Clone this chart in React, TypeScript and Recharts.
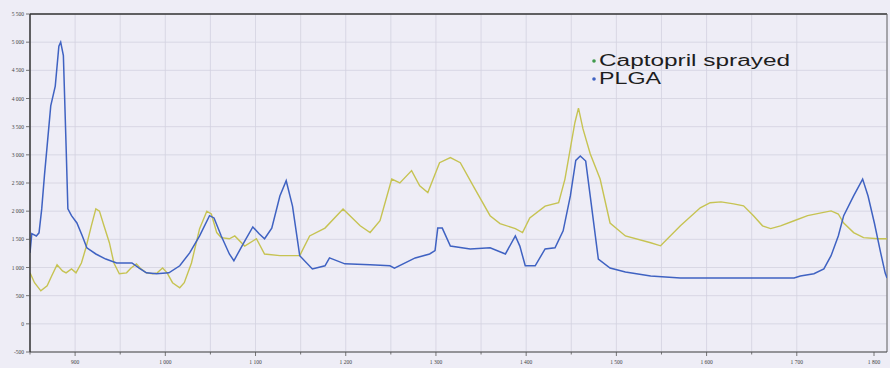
import { LineChart, Line, XAxis, YAxis, CartesianGrid, Legend, ReferenceLine } from 'recharts';

// Raman shift (cm-1) / intensity
const plgaShift = [850, 852, 857, 860, 863, 866, 869, 873, 878, 882, 884, 887, 890, 892, 896, 902, 908, 913, 923, 934, 946, 957, 963, 971, 979, 990, 1004, 1016, 1027, 1038, 1049, 1054, 1062, 1071, 1076, 1088, 1097, 1104, 1110, 1118, 1127, 1134, 1141, 1149, 1163, 1177, 1182, 1199, 1227, 1249, 1254, 1277, 1293, 1299, 1302, 1307, 1316, 1338, 1360, 1377, 1388, 1393, 1399, 1410, 1421, 1432, 1441, 1449, 1455, 1460, 1466, 1471, 1480, 1493, 1510, 1538, 1571, 1616, 1660, 1697, 1704, 1719, 1730, 1738, 1746, 1752, 1763, 1773, 1779, 1786, 1793, 1798, 1800];
const plgaIntensity = [1260, 1600, 1560, 1615, 2040, 2630, 3160, 3870, 4220, 4930, 5000, 4760, 3160, 2040, 1920, 1790, 1560, 1350, 1240, 1150, 1080, 1080, 1080, 990, 905, 890, 905, 1030, 1260, 1560, 1920, 1880, 1560, 1240, 1120, 1470, 1720, 1600, 1510, 1700, 2270, 2540, 2090, 1210, 975, 1030, 1170, 1065, 1050, 1030, 990, 1170, 1240, 1300, 1700, 1700, 1380, 1330, 1350, 1240, 1560, 1380, 1030, 1030, 1330, 1350, 1650, 2270, 2900, 2980, 2890, 2270, 1150, 990, 920, 850, 815, 815, 815, 815, 850, 890, 975, 1210, 1560, 1920, 2270, 2570, 2270, 1790, 1260, 900, 815];

const captoprilShift = [850, 855, 862, 869, 874, 880, 886, 890, 896, 901, 907, 912, 918, 923, 927, 932, 938, 943, 949, 957, 962, 968, 973, 979, 986, 991, 997, 1002, 1008, 1016, 1021, 1029, 1038, 1046, 1051, 1057, 1062, 1071, 1077, 1088, 1101, 1110, 1127, 1149, 1160, 1177, 1197, 1216, 1227, 1238, 1251, 1260, 1273, 1282, 1291, 1304, 1316, 1327, 1343, 1360, 1371, 1388, 1396, 1404, 1421, 1436, 1443, 1454, 1458, 1463, 1471, 1482, 1493, 1510, 1538, 1549, 1571, 1593, 1604, 1616, 1630, 1641, 1652, 1662, 1671, 1682, 1697, 1712, 1727, 1738, 1746, 1752, 1763, 1774, 1790, 1800];
const captoprilIntensity = [905, 730, 585, 675, 850, 1050, 940, 905, 975, 905, 1080, 1350, 1740, 2040, 2000, 1740, 1440, 1080, 890, 905, 990, 1065, 975, 905, 890, 905, 990, 905, 730, 640, 730, 1080, 1690, 2000, 1950, 1620, 1530, 1510, 1560, 1380, 1510, 1240, 1210, 1210, 1560, 1700, 2040, 1740, 1620, 1830, 2570, 2500, 2720, 2450, 2330, 2860, 2950, 2860, 2400, 1920, 1780, 1690, 1620, 1880, 2090, 2150, 2570, 3570, 3830, 3460, 3020, 2570, 1790, 1560, 1440, 1385, 1740, 2060, 2150, 2165, 2130, 2095, 1920, 1740, 1690, 1740, 1830, 1920, 1970, 2005, 1950, 1790, 1620, 1530, 1510, 1510];

const xTicks = [850, 900, 950, 1000, 1050, 1100, 1150, 1200, 1250, 1300, 1350, 1400, 1450, 1500, 1550, 1600, 1650, 1700, 1750, 1800];
const yTicks = [-500, -250, 0, 250, 500, 750, 1000, 1250, 1500, 1750, 2000, 2250, 2500, 2750, 3000, 3250, 3500, 3750, 4000, 4250, 4500, 4750, 5000, 5250, 5500];
const yGrid = [-500, 0, 500, 1000, 1500, 2000, 2500, 3000, 3500, 4000, 4500, 5000, 5500];

const seriesNames = ['Captopril sprayed', 'PLGA'];
const seriesColors = ['#c6c352', '#3f62c2'];
const bulletColors = ['#3f9a4c', '#3f62c2'];

const plgaData = plgaShift.map((x, i) => ({ x, y: plgaIntensity[i] }));
const captoprilData = captoprilShift.map((x, i) => ({ x, y: captoprilIntensity[i] }));

const fmt = (n: number) => {
  const s = String(Math.abs(n));
  const t = s.length > 3 ? s.slice(0, s.length - 3) + ' ' + s.slice(-3) : s;
  return n < 0 ? '-' + t : t;
};

const YTick = (props: any) => {
  const { x, y, payload } = props;
  const major = payload.value % 500 === 0;
  return (
    <g>
      <line x1={x - (major ? 4 : 2)} x2={x} y1={y} y2={y} stroke="#555" strokeWidth={0.8} />
      {major && (
        <text x={x - 6} y={y + 2} textAnchor="end" fontSize={5.5} fill="#444" fontFamily="Liberation Serif">
          {fmt(payload.value)}
        </text>
      )}
    </g>
  );
};

const XTick = (props: any) => {
  const { x, y, payload } = props;
  const major = payload.value % 100 === 0;
  return (
    <g>
      <line x1={x} x2={x} y1={y} y2={y + (major ? 4 : 2.5)} stroke="#555" strokeWidth={0.8} />
      {major && (
        <text x={x} y={y + 12} textAnchor="middle" fontSize={5.5} fill="#444" fontFamily="Liberation Serif">
          {fmt(payload.value)}
        </text>
      )}
    </g>
  );
};

const LegendBox = () => (
  <svg width={230} height={46} style={{ overflow: 'visible' }}>
    {seriesNames.map((name, i) => (
      <g key={name}>
        <circle cx={6} cy={13 + i * 18} r={1.8} fill={bulletColors[i]} />
        <text
          x={11}
          y={18 + i * 18}
          fontSize={16}
          fill="#1e1e1e"
          fontFamily="Liberation Sans"
          textLength={i === 0 ? 191 : 62}
          lengthAdjust="spacingAndGlyphs"
        >
          {name}
        </text>
      </g>
    ))}
  </svg>
);

export default function App() {
  return (
    <div style={{ width: 890, height: 368, background: '#eeedf6' }}>
      <style>{'body{margin:0}'}</style>
      <LineChart width={890} height={368} margin={{ top: 14, right: 3, bottom: 4, left: 0 }}>
        <CartesianGrid
          stroke="#d3d2e0"
          strokeWidth={0.8}
          horizontalValues={yGrid}
          verticalValues={xTicks}
        />
        <XAxis
          type="number"
          dataKey="x"
          domain={[850, 1800]}
          ticks={xTicks}
          allowDataOverflow
          height={12}
          tickSize={0}
          tickMargin={0}
          tickLine={false}
          tick={<XTick />}
          stroke="#444"
          strokeWidth={1.2}
        />
        <YAxis
          type="number"
          domain={[-500, 5500]}
          ticks={yTicks}
          allowDataOverflow
          width={30}
          tickSize={0}
          tickMargin={0}
          tickLine={false}
          tick={<YTick />}
          stroke="#333"
          strokeWidth={1.5}
        />
        <ReferenceLine y={5500} stroke="#333" strokeWidth={1.5} />
        <ReferenceLine x={1800} stroke="#666" strokeWidth={1} />
        <Legend
          content={<LegendBox />}
          verticalAlign="top"
          wrapperStyle={{ position: 'absolute', left: 588, top: 48, width: 0, height: 0, overflow: 'visible' }}
        />
        <Line
          data={captoprilData}
          dataKey="y"
          name={seriesNames[0]}
          type="linear"
          stroke={seriesColors[0]}
          strokeWidth={1.4}
          dot={false}
          isAnimationActive={false}
        />
        <Line
          data={plgaData}
          dataKey="y"
          name={seriesNames[1]}
          type="linear"
          stroke={seriesColors[1]}
          strokeWidth={1.5}
          dot={false}
          isAnimationActive={false}
        />
      </LineChart>
    </div>
  );
}
